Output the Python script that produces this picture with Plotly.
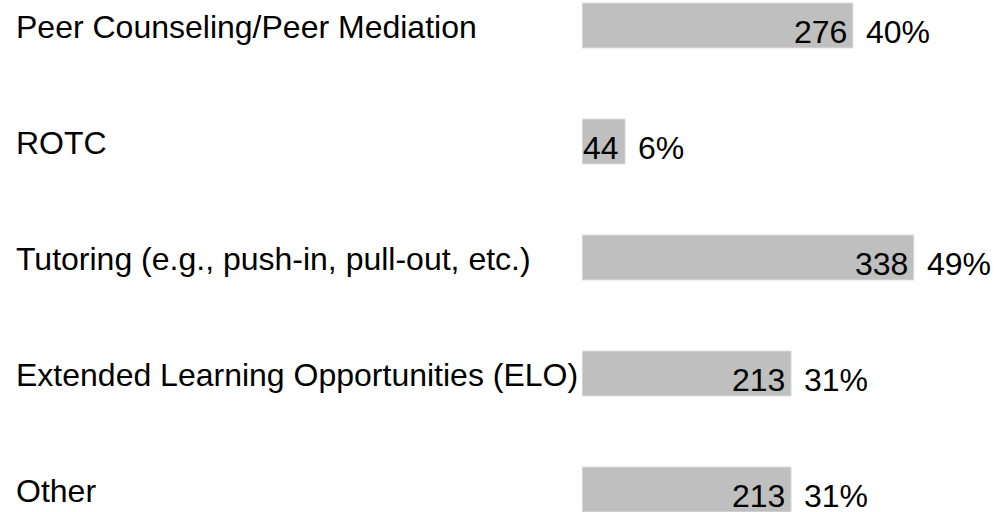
import plotly.graph_objects as go

categories = [
    "Peer Counseling/Peer Mediation",
    "ROTC",
    "Tutoring (e.g., push-in, pull-out, etc.)",
    "Extended Learning Opportunities (ELO)",
    "Other",
]
counts = [276, 44, 338, 213, 213]
percents = ["40%", "6%", "49%", "31%", "31%"]

W, H = 996, 512
L = 582
plot_w = W - L
px_per_unit = 0.982
xmax = plot_w / px_per_unit
row = 116.0
c0 = 25.5
yr = [(H - c0) / row, -c0 / row]

idx = list(range(len(categories)))
FONT = "Liberation Sans, Arial, sans-serif"
FS = 32

fig = go.Figure()
fig.add_trace(go.Bar(
    y=idx, x=counts, orientation="h", width=0.39,
    marker=dict(color="#bfbfbf", line=dict(color="#e6e6e6", width=1)),
    hoverinfo="skip",
))

ann = []
for i, (cat, v, p) in enumerate(zip(categories, counts, percents)):
    ann.append(dict(x=(14 - L) / plot_w, xref="paper", y=i, yref="y",
                    text=cat, showarrow=False, xanchor="left", yanchor="middle",
                    yshift=-1, font=dict(family=FONT, size=FS, color="black")))
    ann.append(dict(x=v, xref="x", y=i, yref="y", text=str(v), showarrow=False,
                    xanchor="right", yanchor="middle", xshift=-4, yshift=-6,
                    font=dict(family=FONT, size=FS, color="black")))
    ann.append(dict(x=v, xref="x", y=i, yref="y", text=p, showarrow=False,
                    xanchor="left", yanchor="middle", xshift=11, yshift=-6,
                    font=dict(family=FONT, size=FS, color="black")))

fig.update_layout(
    width=W, height=H,
    margin=dict(l=L, r=0, t=0, b=0, pad=0),
    paper_bgcolor="white", plot_bgcolor="white",
    showlegend=False,
    xaxis=dict(range=[0, xmax], visible=False, fixedrange=True),
    yaxis=dict(range=yr, visible=False, fixedrange=True),
    annotations=ann,
)

fig.write_html("out.html", config={"displayModeBar": False},
               post_script="document.body.style.margin='0';document.body.style.padding='0';")
